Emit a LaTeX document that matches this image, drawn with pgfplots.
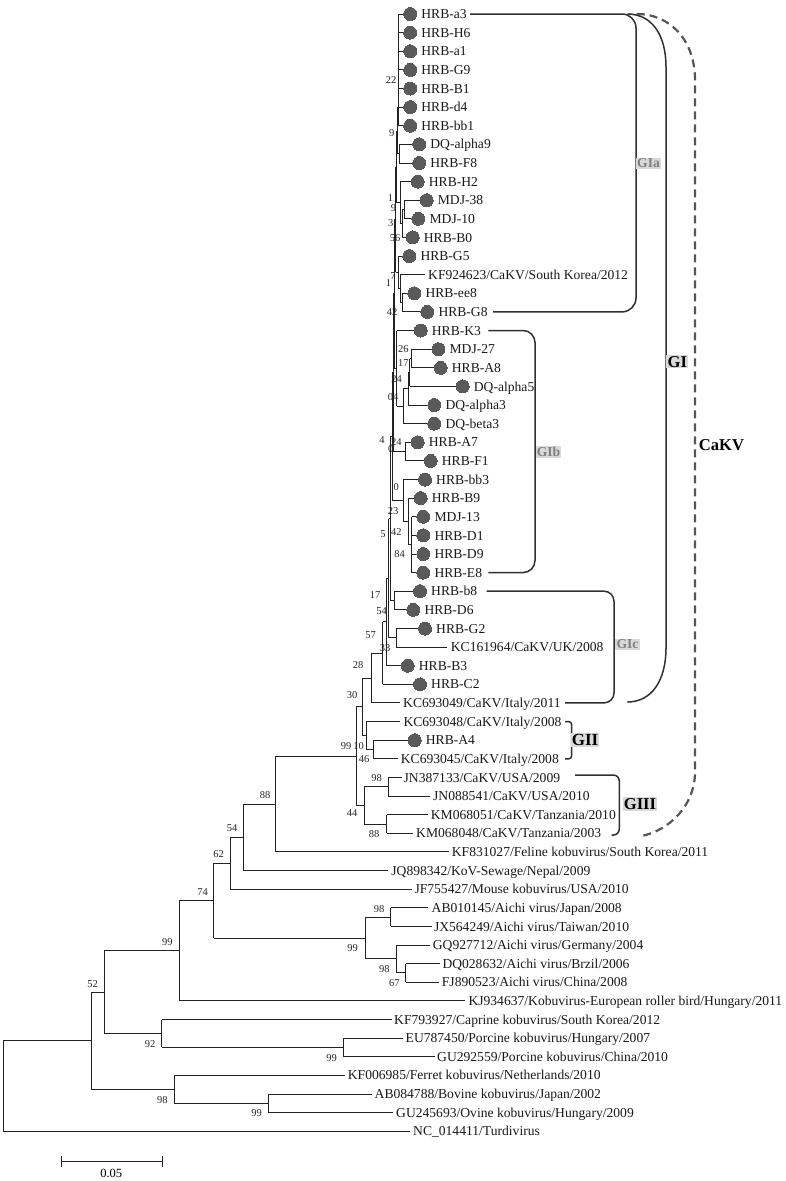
\documentclass[border=0pt]{standalone}
\usepackage{pgfplots}
\pgfplotsset{compat=1.18}
\usepackage{fontspec}
\setmainfont{Liberation Serif}
\definecolor{treec}{HTML}{222222}
\definecolor{circ}{HTML}{5A5A5A}
\definecolor{boxg}{HTML}{D9D9D9}
\definecolor{lblg}{HTML}{7F7F7F}
\definecolor{brk}{HTML}{303030}
\definecolor{dashc}{HTML}{555555}
\newcommand{\lf}[3]{\node[leaflab] at (axis cs:#1,#2) {#3};}
\newcommand{\bs}[3]{\node[bslab] at (axis cs:#1,#2) {#3};}
\begin{document}
\begin{tikzpicture}[
  leaflab/.style={anchor=base west, inner sep=0pt, font=\fontsize{13.6}{16}\selectfont, text=black!90, yshift=-4.6pt},
  bslab/.style={anchor=base, inner sep=0pt, font=\fontsize{10.5}{12}\selectfont, text=black!85, yshift=-3.6pt},
  brack/.style={draw=brk, line width=1.5pt},
  glab/.style={fill=boxg, inner sep=1.2pt, font=\bfseries\fontsize{13.6}{15}\selectfont, text=lblg},
  Glab/.style={fill=boxg, inner sep=1.2pt, font=\bfseries\fontsize{16.6}{18}\selectfont, text=black}
]
\begin{axis}[scale only axis, width=786pt, height=1181pt,
  xmin=0, xmax=786, ymin=0, ymax=1181, y dir=reverse,
  hide axis, clip=false, unbounded coords=jump]

\coordinate (bbA) at (axis cs:0,0);
\coordinate (bbB) at (axis cs:786,1181);

% ---- internal verticals ----
\addplot[treec, line width=1.0pt] coordinates {
(3.3,1040.7)(3.3,1131.2) (nan,nan)
(91,992.1)(91,1089.3) (nan,nan)
(104.3,950.75)(104.3,1033.45) (nan,nan)
(161.7,1019.5)(161.7,1047.4) (nan,nan)
(343.3,1038.1)(343.3,1056.7) (nan,nan)
(174,1075.3)(174,1103.3) (nan,nan)
(268.3,1094.0)(268.3,1112.6) (nan,nan)
(179,900.6)(179,1000.9) (nan,nan)
(213.7,863.2)(213.7,938.0) (nan,nan)
(365,917.1)(365,958.95) (nan,nan)
(390.7,907.8)(390.7,926.4) (nan,nan)
(396,945.0)(396,972.9) (nan,nan)
(405.7,963.6)(405.7,982.2) (nan,nan)
(230,837.25)(230,889.1) (nan,nan)
(243,804.0)(243,870.5) (nan,nan)
(275.7,756.1)(275.7,851.9) (nan,nan)
(356,706.8)(356,805.35) (nan,nan)
(364,786.7)(364,824.0) (nan,nan)
(388.3,777.4)(388.3,796.0) (nan,nan)
(386.7,814.7)(386.7,833.3) (nan,nan)
(362,678.0)(362,735.55) (nan,nan)
(366,721.6)(366,749.5) (nan,nan)
(373.3,740.2)(373.3,758.8) (nan,nan)
(371.7,653.1)(371.7,702.9) (nan,nan)
(382.7,621.95)(382.7,684.3) (nan,nan)
(386.7,578.2)(386.7,665.7) (nan,nan)
(388.5,518.55)(388.5,637.8) (nan,nan)
(396,628.5)(396,647.1) (nan,nan)
(390,436.6)(390,600.5) (nan,nan)
(394.5,591.2)(394.5,609.8) (nan,nan)
(392,372.75)(392,500.45) (nan,nan)
(403.3,479.5)(403.3,521.4) (nan,nan)
(408.3,498.1)(408.3,544.65) (nan,nan)
(411.7,516.7)(411.7,572.6) (nan,nan)
(393,293.9)(393,451.6) (nan,nan)
(405,442.3)(405,460.9) (nan,nan)
(394,219.45)(394,368.3) (nan,nan)
(396.7,330.5)(396.7,406.15) (nan,nan)
(403.3,388.7)(403.3,423.6) (nan,nan)
(408.3,372.45)(408.3,405.0) (nan,nan)
(409.5,358.5)(409.5,386.4) (nan,nan)
(411,349.2)(411,367.8) (nan,nan)
(395.5,166.5)(395.5,272.4) (nan,nan)
(398.5,256.1)(398.5,288.65) (nan,nan)
(400,274.7)(400,302.6) (nan,nan)
(402.3,293.3)(402.3,311.9) (nan,nan)
(396.5,130.5)(396.5,202.5) (nan,nan)
(400,181.6)(400,223.45) (nan,nan)
(402,209.5)(402,237.4) (nan,nan)
(404,200.2)(404,218.8) (nan,nan)
(397.3,107.4)(397.3,153.65) (nan,nan)
(399.3,144.3)(399.3,163.0) (nan,nan)
(398.3,14)(398.3,125.7)
};
% ---- internal horizontals ----
\addplot[treec, line width=1.0pt] coordinates {
(3.3,1040.7)(91,1040.7) (nan,nan)
(91,992.1)(104.3,992.1) (nan,nan)
(104.3,1033.45)(161.7,1033.45) (nan,nan)
(161.7,1047.4)(343.3,1047.4) (nan,nan)
(91,1089.3)(174,1089.3) (nan,nan)
(174,1103.3)(268.3,1103.3) (nan,nan)
(104.3,950.75)(179,950.75) (nan,nan)
(179,900.6)(213.7,900.6) (nan,nan)
(213.7,938.0)(365,938.0) (nan,nan)
(365,917.1)(390.7,917.1) (nan,nan)
(365,958.95)(396,958.95) (nan,nan)
(396,972.9)(405.7,972.9) (nan,nan)
(213.7,863.2)(230,863.2) (nan,nan)
(230,837.25)(243,837.25) (nan,nan)
(243,804.0)(275.7,804.0) (nan,nan)
(275.7,756.1)(356,756.1) (nan,nan)
(356,805.35)(364,805.35) (nan,nan)
(364,786.7)(388.3,786.7) (nan,nan)
(364,824.0)(386.7,824.0) (nan,nan)
(356,706.8)(362,706.8) (nan,nan)
(362,735.55)(366,735.55) (nan,nan)
(366,749.5)(373.3,749.5) (nan,nan)
(362,678.0)(371.7,678.0) (nan,nan)
(371.7,653.1)(382.7,653.1) (nan,nan)
(382.7,621.95)(386.7,621.95) (nan,nan)
(386.7,578.2)(388.5,578.2) (nan,nan)
(388.5,637.8)(396,637.8) (nan,nan)
(388.5,518.55)(390,518.55) (nan,nan)
(390,600.5)(394.5,600.5) (nan,nan)
(390,436.6)(392,436.6) (nan,nan)
(392,500.45)(403.3,500.45) (nan,nan)
(403.3,521.4)(408.3,521.4) (nan,nan)
(408.3,544.65)(411.7,544.65) (nan,nan)
(392,372.75)(393,372.75) (nan,nan)
(393,451.6)(405,451.6) (nan,nan)
(393,293.9)(394,293.9) (nan,nan)
(394,368.3)(396.7,368.3) (nan,nan)
(396.7,406.15)(403.3,406.15) (nan,nan)
(403.3,388.7)(408.3,388.7) (nan,nan)
(408.3,372.45)(409.5,372.45) (nan,nan)
(409.5,358.5)(411,358.5) (nan,nan)
(394,219.45)(395.5,219.45) (nan,nan)
(395.5,272.4)(398.5,272.4) (nan,nan)
(398.5,288.65)(400,288.65) (nan,nan)
(400,302.6)(402.3,302.6) (nan,nan)
(395.5,166.5)(396.5,166.5) (nan,nan)
(396.5,202.5)(400,202.5) (nan,nan)
(400,223.45)(402,223.45) (nan,nan)
(402,209.5)(404,209.5) (nan,nan)
(396.5,130.5)(397.3,130.5) (nan,nan)
(397.3,153.65)(399.3,153.65) (nan,nan)
(397.3,107.4)(398.3,107.4)
};
% ---- leaf branches ----
\addplot[treec, line width=1.0pt] coordinates {
(398.3,14.0)(403.5,14.0) (nan,nan)
(398.3,32.6)(403.5,32.6) (nan,nan)
(398.3,51.2)(403.5,51.2) (nan,nan)
(398.3,69.9)(403.5,69.9) (nan,nan)
(398.3,88.5)(403.5,88.5) (nan,nan)
(398.3,107.1)(403.5,107.1) (nan,nan)
(398.3,125.7)(403.5,125.7) (nan,nan)
(399.3,144.3)(412.5,144.3) (nan,nan)
(399.3,163.0)(412.5,163.0) (nan,nan)
(400,181.6)(411,181.6) (nan,nan)
(404,200.2)(420,200.2) (nan,nan)
(404,218.8)(411.7,218.8) (nan,nan)
(402,237.4)(406,237.4) (nan,nan)
(398.5,256.1)(402.6,256.1) (nan,nan)
(400,274.7)(425,274.7) (nan,nan)
(402.3,293.3)(407.6,293.3) (nan,nan)
(402.3,311.9)(420.6,311.9) (nan,nan)
(396.7,330.5)(414,330.5) (nan,nan)
(411,349.2)(431.7,349.2) (nan,nan)
(411,367.8)(434,367.8) (nan,nan)
(409.5,386.4)(456,386.4) (nan,nan)
(408.3,405.0)(427.6,405.0) (nan,nan)
(403.3,423.6)(427.6,423.6) (nan,nan)
(405,442.3)(411,442.3) (nan,nan)
(405,460.9)(424,460.9) (nan,nan)
(403.3,479.5)(418.3,479.5) (nan,nan)
(408.3,498.1)(414,498.1) (nan,nan)
(411.7,516.7)(416.6,516.7) (nan,nan)
(411.7,535.4)(416.6,535.4) (nan,nan)
(411.7,554.0)(416.6,554.0) (nan,nan)
(411.7,572.6)(416.6,572.6) (nan,nan)
(394.5,591.2)(413.3,591.2) (nan,nan)
(394.5,609.8)(406.6,609.8) (nan,nan)
(396,628.5)(418.3,628.5) (nan,nan)
(396,647.1)(447,647.1) (nan,nan)
(386.7,665.7)(401,665.7) (nan,nan)
(382.7,684.3)(413.3,684.3) (nan,nan)
(371.7,702.9)(400,702.9) (nan,nan)
(366,721.6)(400,721.6) (nan,nan)
(373.3,740.2)(408,740.2) (nan,nan)
(373.3,758.8)(398,758.8) (nan,nan)
(388.3,777.4)(401.7,777.4) (nan,nan)
(388.3,796.0)(430,796.0) (nan,nan)
(386.7,814.7)(428.3,814.7) (nan,nan)
(386.7,833.3)(413.3,833.3) (nan,nan)
(275.7,851.9)(449.3,851.9) (nan,nan)
(243,870.5)(388.3,870.5) (nan,nan)
(230,889.1)(411.7,889.1) (nan,nan)
(390.7,907.8)(428.3,907.8) (nan,nan)
(390.7,926.4)(431.7,926.4) (nan,nan)
(396,945.0)(430,945.0) (nan,nan)
(405.7,963.6)(440,963.6) (nan,nan)
(405.7,982.2)(439,982.2) (nan,nan)
(179,1000.9)(465,1000.9) (nan,nan)
(161.7,1019.5)(391.7,1019.5) (nan,nan)
(343.3,1038.1)(403.3,1038.1) (nan,nan)
(343.3,1056.7)(435,1056.7) (nan,nan)
(174,1075.3)(345,1075.3) (nan,nan)
(268.3,1094.0)(371.7,1094.0) (nan,nan)
(268.3,1112.6)(393.3,1112.6) (nan,nan)
(3.3,1131.2)(410,1131.2)
};
% ---- scale bar ----
\addplot[treec, line width=1.0pt] coordinates {
(61,1161)(162.7,1161) (nan,nan)
(61,1155.5)(61,1166.5) (nan,nan)
(162.7,1155.5)(162.7,1166.5)
};
% ---- sample circles ----
\addplot[only marks, mark=*, mark size=6.5pt, mark options={fill=circ, draw=circ, line width=0pt}] coordinates {
(410.2,14.0)(410.2,32.6)(410.2,51.2)(410.2,69.9)(410.2,88.5)(410.2,107.1)(410.2,125.7)
(419.2,144.3)(419.2,163.0)(417.7,181.6)(426.7,200.2)(418.4,218.8)(412.7,237.4)(409.3,256.1)
(414.3,293.3)(427.3,311.9)(420.7,330.5)(438.4,349.2)(440.7,367.8)(462.7,386.4)(434.3,405.0)
(434.3,423.6)(417.7,442.3)(430.7,460.9)(425,479.5)(420.7,498.1)(423.3,516.7)(423.3,535.4)
(423.3,554.0)(423.3,572.6)(420,591.2)(413.3,609.8)(425,628.5)(407.7,665.7)(420,684.3)
(414.7,740.2)
};

% ---- leaf labels ----
\lf{421.2}{14.0}{HRB-a3}
\lf{421.2}{32.6}{HRB-H6}
\lf{421.2}{51.2}{HRB-a1}
\lf{421.2}{69.9}{HRB-G9}
\lf{421.2}{88.5}{HRB-B1}
\lf{421.2}{107.1}{HRB-d4}
\lf{421.2}{125.7}{HRB-bb1}
\lf{430.2}{144.3}{DQ-alpha9}
\lf{430.2}{163.0}{HRB-F8}
\lf{428.7}{181.6}{HRB-H2}
\lf{437.7}{200.2}{MDJ-38}
\lf{429.4}{218.8}{MDJ-10}
\lf{423.7}{237.4}{HRB-B0}
\lf{420.3}{256.1}{HRB-G5}
\lf{428}{274.7}{KF924623/CaKV/South Korea/2012}
\lf{425.3}{293.3}{HRB-ee8}
\lf{438.3}{311.9}{HRB-G8}
\lf{431.7}{330.5}{HRB-K3}
\lf{449.4}{349.2}{MDJ-27}
\lf{451.7}{367.8}{HRB-A8}
\lf{473.7}{386.4}{DQ-alpha5}
\lf{445.3}{405.0}{DQ-alpha3}
\lf{445.3}{423.6}{DQ-beta3}
\lf{428.7}{442.3}{HRB-A7}
\lf{441.7}{460.9}{HRB-F1}
\lf{436}{479.5}{HRB-bb3}
\lf{431.7}{498.1}{HRB-B9}
\lf{434.3}{516.7}{MDJ-13}
\lf{434.3}{535.4}{HRB-D1}
\lf{434.3}{554.0}{HRB-D9}
\lf{434.3}{572.6}{HRB-E8}
\lf{431}{591.2}{HRB-b8}
\lf{424.3}{609.8}{HRB-D6}
\lf{436}{628.5}{HRB-G2}
\lf{450.7}{647.1}{KC161964/CaKV/UK/2008}
\lf{418.7}{665.7}{HRB-B3}
\lf{431}{684.3}{HRB-C2}
\lf{403}{702.9}{KC693049/CaKV/Italy/2011}
\lf{403.3}{721.6}{KC693048/CaKV/Italy/2008}
\lf{425.7}{740.2}{HRB-A4}
\lf{400.7}{758.8}{KC693045/CaKV/Italy/2008}
\lf{403.5}{777.4}{JN387133/CaKV/USA/2009}
\lf{433}{796.0}{JN088541/CaKV/USA/2010}
\lf{430.7}{814.7}{KM068051/CaKV/Tanzania/2010}
\lf{416}{833.3}{KM068048/CaKV/Tanzania/2003}
\lf{451.7}{851.9}{KF831027/Feline kobuvirus/South Korea/2011}
\lf{391.2}{870.5}{JQ898342/KoV-Sewage/Nepal/2009}
\lf{414.3}{889.1}{JF755427/Mouse kobuvirus/USA/2010}
\lf{431.5}{907.8}{AB010145/Aichi virus/Japan/2008}
\lf{433.8}{926.4}{JX564249/Aichi virus/Taiwan/2010}
\lf{432.7}{945.0}{GQ927712/Aichi virus/Germany/2004}
\lf{442.3}{963.6}{DQ028632/Aichi virus/Brzil/2006}
\lf{441.7}{982.2}{FJ890523/Aichi virus/China/2008}
\lf{468.3}{1000.9}{KJ934637/Kobuvirus-European roller bird/Hungary/2011}
\lf{394}{1019.5}{KF793927/Caprine kobuvirus/South Korea/2012}
\lf{405.5}{1038.1}{EU787450/Porcine kobuvirus/Hungary/2007}
\lf{437}{1056.7}{GU292559/Porcine kobuvirus/China/2010}
\lf{347.7}{1075.3}{KF006985/Ferret kobuvirus/Netherlands/2010}
\lf{374.5}{1094.0}{AB084788/Bovine kobuvirus/Japan/2002}
\lf{396}{1112.6}{GU245693/Ovine kobuvirus/Hungary/2009}
\lf{413}{1131.2}{NC\_014411/Turdivirus}

% ---- bootstrap values ----
\bs{391}{80}{22}
\bs{391.7}{133.3}{9}
\bs{390.5}{198}{1}
\bs{393.5}{208}{9}
\bs{390.7}{223.3}{3}
\bs{395}{238.3}{56}
\bs{393}{276}{7}
\bs{388.5}{283}{1}
\bs{392}{311.7}{42}
\bs{403.3}{349.3}{26}
\bs{403.3}{363.3}{17}
\bs{396.5}{379}{24}
\bs{393}{396.5}{04}
\bs{382}{440}{4}
\bs{396.3}{441.7}{24}
\bs{390.7}{449.3}{0}
\bs{396.3}{487}{0}
\bs{393}{510.5}{23}
\bs{383}{534.3}{5}
\bs{396.3}{531.5}{42}
\bs{399.7}{554.3}{84}
\bs{375}{595}{17}
\bs{381.7}{610.7}{54}
\bs{370.7}{635}{57}
\bs{385}{648.3}{33}
\bs{358}{665}{28}
\bs{352}{695}{30}
\bs{346}{746}{99}
\bs{358.5}{746}{10}
\bs{364}{759}{46}
\bs{376.7}{777.7}{98}
\bs{352}{813}{44}
\bs{374}{834.3}{88}
\bs{265}{795}{88}
\bs{232}{828.3}{54}
\bs{218.7}{854.3}{62}
\bs{202.7}{891.7}{74}
\bs{167.3}{942.3}{99}
\bs{352.7}{947.7}{99}
\bs{379}{908.7}{98}
\bs{384.3}{969.3}{98}
\bs{394.3}{983.3}{67}
\bs{92.7}{984}{52}
\bs{150}{1044}{92}
\bs{331.7}{1057.7}{99}
\bs{162.3}{1100}{98}
\bs{256.7}{1113.3}{99}
\node[anchor=base, inner sep=0pt, font=\fontsize{12.5}{14}\selectfont, yshift=-4.3pt] at (axis cs:111.3,1173) {0.05};

% ---- clade brackets ----
\draw[brack, rounded corners=14pt] (axis cs:470,14) -- (axis cs:636,14) -- (axis cs:636,311.9) -- (axis cs:493,311.9);
\draw[brack, rounded corners=12pt] (axis cs:488.3,330.5) -- (axis cs:535,330.5) -- (axis cs:535,572.6) -- (axis cs:488.3,572.6);
\draw[brack, rounded corners=10pt] (axis cs:486.7,591.2) -- (axis cs:614,591.2) -- (axis cs:614,702.9) -- (axis cs:565,702.9);
\draw[brack] (axis cs:627.3,14) .. controls (axis cs:652,14) and (axis cs:666,35) .. (axis cs:666,67) -- (axis cs:666,648) .. controls (axis cs:666,680) and (axis cs:652,702) .. (axis cs:627.3,702);
\draw[dashc, line width=2.2pt, dash pattern=on 8pt off 5pt] (axis cs:636.7,14) .. controls (axis cs:670,14) and (axis cs:695,40) .. (axis cs:695,80) -- (axis cs:695,772) .. controls (axis cs:695,805) and (axis cs:670,830) .. (axis cs:641.7,836);
\draw[brack, rounded corners=3pt] (axis cs:565,721.6) -- (axis cs:571.7,721.6) -- (axis cs:571.7,758.8) -- (axis cs:565,758.8);
\draw[brack, rounded corners=6pt] (axis cs:575,775) -- (axis cs:619.3,775) -- (axis cs:619.3,835) -- (axis cs:611.7,835);

\node[glab] at (axis cs:648.5,163.3) {GIa};
\node[glab] at (axis cs:548.5,451.7) {GIb};
\node[glab] at (axis cs:627.5,644.3) {GIc};
\node[Glab] at (axis cs:677.3,361.7) {GI};
\node[Glab, font=\bfseries\fontsize{17}{18}\selectfont] at (axis cs:585,740) {GII};
\node[Glab] at (axis cs:640,804) {GIII};
\node[anchor=west, inner sep=0pt, font=\bfseries\fontsize{16.6}{18}\selectfont] at (axis cs:698.7,445) {CaKV};
\end{axis}
\pgfresetboundingbox
\useasboundingbox (bbA) rectangle (bbB);
\end{tikzpicture}
\end{document}
